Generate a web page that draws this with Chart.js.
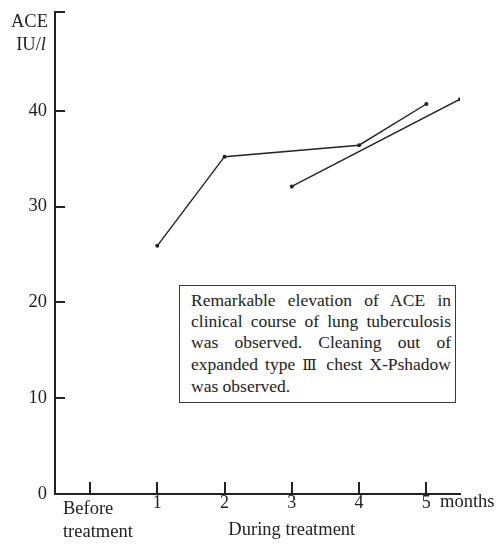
<!DOCTYPE html>
<html lang="en">
<head>
    <meta charset="UTF-8">
    <title>ACE during treatment</title>
    <script src="https://cdn.jsdelivr.net/npm/chart.js"></script>
    <style>
        body {
            margin: 0;
            background: #fff;
        }
        .wrap {
            position: relative;
            width: 496px;
            height: 545px;
        }
        .note {
            position: absolute;
            left: 179px;
            top: 285px;
            width: 277px;
            height: 118px;
            box-sizing: border-box;
            border: 1.5px solid #3a3a3a;
            padding: 4px 4px 0 11px;
            font-family: 'Liberation Serif', 'Times New Roman', serif;
            font-size: 17.5px;
            line-height: 21.2px;
            color: #222;
            text-align: justify;
            background: #fff;
        }
        .note .roman {
            font-family: 'DejaVu Serif', serif;
            font-size: 15px;
        }
    </style>
</head>
<body>
    <div class="wrap">
        <canvas id="aceChart" width="496" height="545"></canvas>
        <div class="note">Remarkable elevation of ACE in clinical course of lung tuberculosis was observed. Cleaning out of expanded type <span class="roman">Ⅲ</span> chest X-Pshadow was observed.</div>
    </div>

    <script>
        // months since start (0 = before treatment)
        const monthTicks = [0, 1, 2, 3, 4, 5];
        const monthLabels = ['Before', '1', '2', '3', '4', '5'];
        const beforeLabel = ['Before', 'treatment'];
        const duringLabel = 'During treatment';
        const unitLabel = 'months';

        const aceTicks = [0, 10, 20, 30, 40];

        // first course
        const courseAx = [1, 2, 4, 5];
        const courseAy = [25.9, 35.2, 36.4, 40.7];
        // second course
        const courseBx = [3, 5.5];
        const courseBy = [32.1, 41.2];

        const X_MIN = -0.52, X_MAX = 5.5;
        const Y_MAX = 50.3;
        const ink = '#222';
        const serif = "'Liberation Serif', 'Times New Roman', serif";

        // inner tick marks + loose labels
        const decorations = {
            id: 'decorations',
            afterDraw(chart) {
                const c = chart.ctx;
                const xs = chart.scales.x, ys = chart.scales.y;
                const area = chart.chartArea;
                c.save();
                c.strokeStyle = ink;
                c.lineWidth = 2;
                c.beginPath();
                aceTicks.concat([Y_MAX]).forEach(v => {
                    const py = Math.round(ys.getPixelForValue(v));
                    c.moveTo(area.left, py);
                    c.lineTo(area.left + 10, py);
                });
                monthTicks.forEach(v => {
                    const px = Math.round(xs.getPixelForValue(v));
                    c.moveTo(px, area.bottom);
                    c.lineTo(px, area.bottom - 12);
                });
                c.stroke();

                c.fillStyle = ink;
                c.font = '18.5px ' + serif;
                c.textBaseline = 'middle';

                // y axis title
                c.textAlign = 'right';
                c.fillText('ACE', 48, 22);
                c.font = 'italic 18.5px ' + serif;
                const lw = c.measureText('l').width;
                c.fillText('l', 46, 45);
                c.font = '18.5px ' + serif;
                c.fillText('IU/', 46 - lw, 45);

                // x axis extras
                c.textAlign = 'left';
                const bx = xs.getPixelForValue(0) - 27;
                c.fillText(beforeLabel[0], bx, 509);
                c.fillText(beforeLabel[1], bx, 532);
                c.fillText(unitLabel, area.right - 20, 502);
                c.textAlign = 'center';
                c.fillText(duringLabel, xs.getPixelForValue(3), 530);
                c.restore();
            }
        };

        const ctx = document.getElementById('aceChart').getContext('2d');
        new Chart(ctx, {
            type: 'line',
            data: {
                datasets: [
                    {
                        data: courseAx.map((x, i) => ({ x: x, y: courseAy[i] })),
                        borderColor: ink,
                        backgroundColor: ink,
                        borderWidth: 1.4,
                        pointRadius: 2,
                        pointBorderWidth: 0,
                        tension: 0
                    },
                    {
                        data: courseBx.map((x, i) => ({ x: x, y: courseBy[i] })),
                        borderColor: ink,
                        backgroundColor: ink,
                        borderWidth: 1.4,
                        pointRadius: 2,
                        pointBorderWidth: 0,
                        tension: 0
                    }
                ]
            },
            options: {
                responsive: false,
                animation: false,
                layout: { padding: { top: 12, right: 36, left: 0, bottom: 0 } },
                plugins: {
                    legend: { display: false },
                    tooltip: { enabled: false }
                },
                scales: {
                    x: {
                        type: 'linear',
                        min: X_MIN,
                        max: X_MAX,
                        afterBuildTicks: s => { s.ticks = monthTicks.map(v => ({ value: v })); },
                        afterFit: s => { s.height = 51; s.paddingLeft = 0; s.paddingRight = 0; },
                        grid: { display: false, drawTicks: false },
                        border: { display: true, color: ink, width: 2 },
                        ticks: {
                            padding: 0,
                            color: ink,
                            font: { family: serif, size: 18, lineHeight: 1 },
                            maxRotation: 0,
                            callback: (v, i) => (i === 0 ? '' : monthLabels[i])
                        }
                    },
                    y: {
                        min: 0,
                        max: Y_MAX,
                        afterBuildTicks: s => { s.ticks = aceTicks.map(v => ({ value: v })); },
                        afterFit: s => { s.width = 55; s.paddingTop = 0; s.paddingBottom = 0; },
                        grid: { display: false, drawTicks: false },
                        border: { display: true, color: ink, width: 2 },
                        ticks: {
                            padding: 8,
                            color: ink,
                            font: { family: serif, size: 18.5 }
                        }
                    }
                }
            },
            plugins: [decorations]
        });
    </script>
</body>
</html>
